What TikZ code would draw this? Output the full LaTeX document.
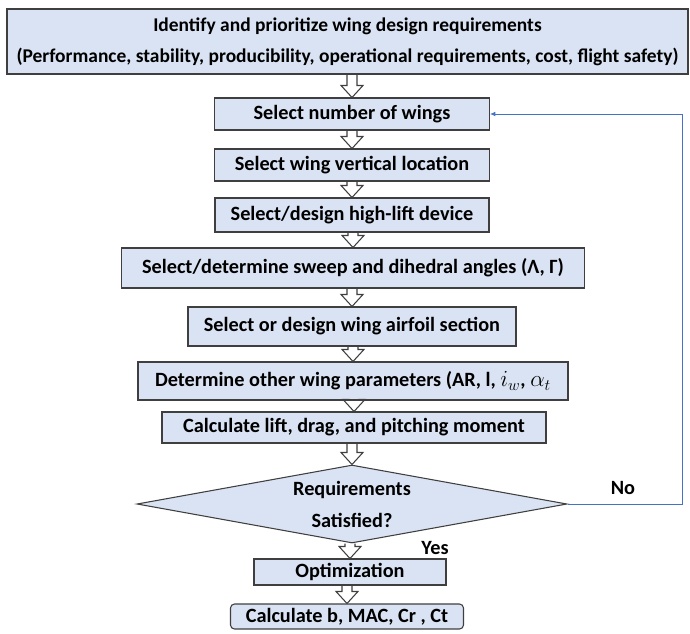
\documentclass[tikz,border=0pt]{standalone}
\usepackage{fontspec}
\setmainfont{Carlito}
\usetikzlibrary{shapes.geometric,arrows.meta,calc}
\definecolor{boxfill}{HTML}{DAE3F3}
\definecolor{boxline}{HTML}{3F3F3F}
\definecolor{loopblue}{HTML}{4472C4}
% hollow block arrow from the bottom of #1 to the top of #2
\newcommand\flowarrow[2]{%
  \draw[arrowline] let \p1=(#1.south), \p2=(#2.north) in
    (\x2-3.75pt,\y1) -- (\x2-3.75pt,\y2+9pt) -- (\x2-8.25pt,\y2+9pt) -- (\x2,\y2)
    -- (\x2+8.25pt,\y2+9pt) -- (\x2+3.75pt,\y2+9pt) -- (\x2+3.75pt,\y1);}
% italic symbols set a little larger than the surrounding text
\newcommand\bigsym[1]{{\fontsize{18}{18}\selectfont$#1$}}
\begin{document}
\begin{tikzpicture}[x=0.75pt,y=-0.75pt,
  font=\bfseries\fontsize{15.2}{18}\selectfont,
  stepbox/.style 2 args={draw=boxline, fill=boxfill, line width=0.8pt,
    inner sep=0pt, minimum width=#1*0.75pt, minimum height=#2*0.75pt},
  decision/.style={diamond, draw=boxline, fill=boxfill, line width=0.8pt,
    inner sep=0pt, aspect=5.5, minimum width=430*0.75pt, minimum height=78*0.75pt,
    align=center},
  arrowline/.style={draw=boxline, line width=0.8pt, line join=miter},
  loopline/.style={draw=loopblue, line width=0.6pt, -{Latex[length=4pt,width=3.5pt]}},
  tag/.style={inner sep=0pt}]
\useasboundingbox (0,0) rectangle (690,633);

\node[stepbox={681}{65}, align=center, font=\bfseries\fontsize{14.6}{23.5}\selectfont]
  (req) at (347.5,41.5)
  {Identify and prioritize wing design requirements\\
   (Performance,\ stability, producibility, operational requirements, cost, flight safety)};
\node[stepbox={275}{32}] (nwings) at (352,114) {Select number of wings};
\node[stepbox={275}{32}] (vloc) at (352,165) {Select wing vertical location};
\node[stepbox={274}{34}] (hilift) at (352,215) {Select/design high-lift device};
\node[stepbox={463}{40}] (sweep) at (353,268) {Select/determine sweep and dihedral angles (Λ, Γ)};
\node[stepbox={328}{39}] (airfoil) at (352,326.5) {Select or design wing airfoil section};
\node[stepbox={430}{38}] (params) at (353,381)
  {Determine other wing parameters (AR, l, \bigsym{i_w}, \bigsym{\alpha_t}};
\node[stepbox={384}{31}] (forces) at (354,427.5) {Calculate lift, drag, and pitching moment};
\node[decision] (check) at (352,504) {Requirements\\[6pt]Satisfied?};
\node[stepbox={192}{26}] (optim) at (350,572) {Optimization};
\node[stepbox={233}{25}, rounded corners=3pt] (result) at (347,616.5) {Calculate b, MAC, Cr , Ct};

\node[tag] (no) at (623,488) {No};
\node[tag] (yes) at (435,548) {Yes};

\flowarrow{req}{nwings}
\flowarrow{nwings}{vloc}
\flowarrow{vloc}{hilift}
\flowarrow{hilift}{sweep}
\flowarrow{sweep}{airfoil}
\flowarrow{airfoil}{params}
\flowarrow{params}{forces}
\flowarrow{forces}{check}
\flowarrow{check}{optim}
\flowarrow{optim}{result}

\coordinate (loopcorner) at (682,504);
\draw[loopline] (check.east) -- (loopcorner) |- (nwings.east);
\end{tikzpicture}
\end{document}
